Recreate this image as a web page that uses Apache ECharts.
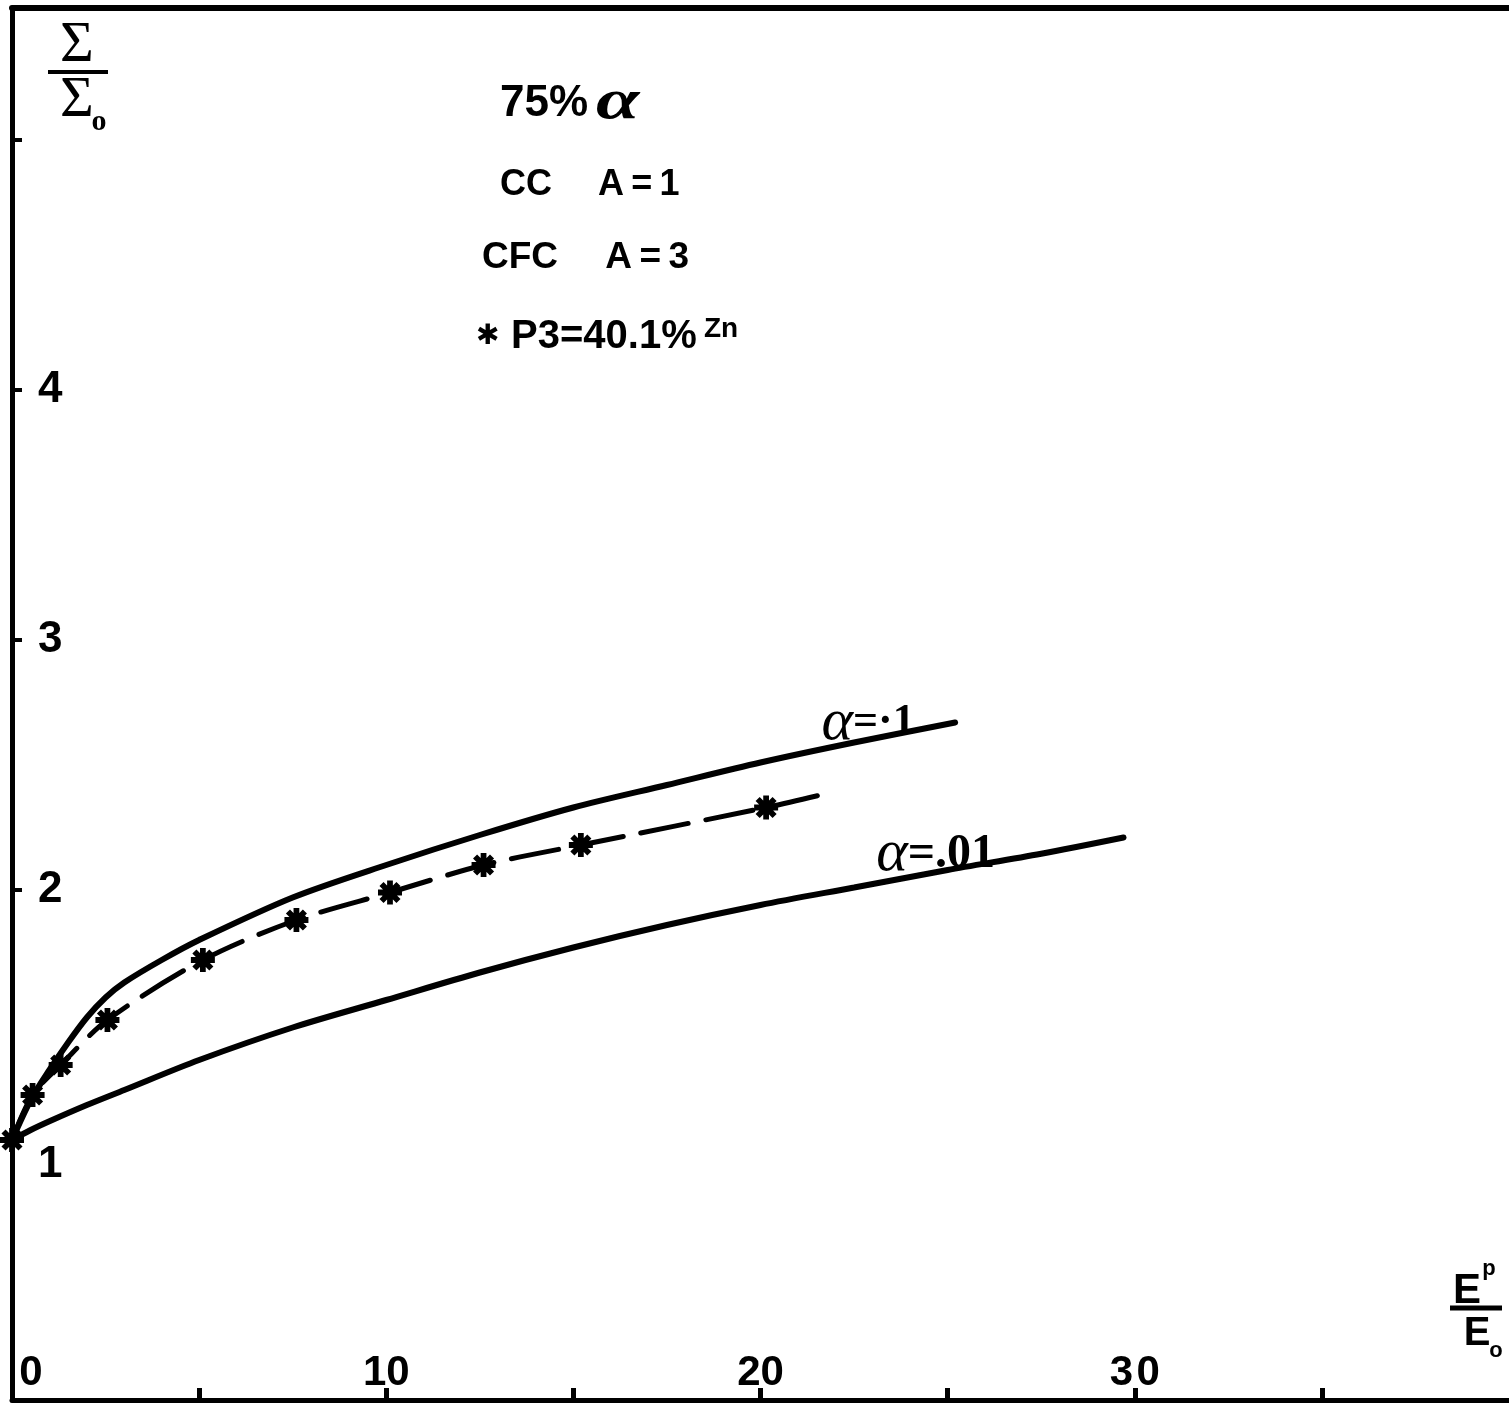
<!DOCTYPE html>
<html>
<head>
<meta charset="utf-8">
<title>Sigma / Sigma0 vs Ep / E0</title>
<script src="https://cdn.jsdelivr.net/npm/echarts@6.0.0/dist/echarts.min.js"></script>
<style>
    html, body { margin: 0; padding: 0; background: #fff; }
    #main { width: 1509px; height: 1410px; }
</style>
</head>
<body>
<div id="main"></div>
<script>
// axis ticks / labels
var x_ticks = [5, 10, 15, 20, 25, 30, 35];
var x_labels = [0, 10, 20, 30];
var y_ticks = [1, 2, 3, 4, 5];
var y_labels = [1, 2, 3, 4];

// alpha = .1 (upper solid curve)
var alpha_1_x = [0, 0.5, 1, 1.5, 2, 2.5, 3, 4, 5, 7.5, 10, 12.5, 15, 17.5, 20, 22.5, 25.2];
var alpha_1_y = [1.0, 1.16, 1.28, 1.39, 1.49, 1.57, 1.63, 1.72, 1.80, 1.97, 2.10, 2.22, 2.33, 2.42, 2.51, 2.59, 2.67];

// alpha = .01 (lower solid curve)
var alpha_01_x = [0, 0.5, 1, 2, 3, 5, 7.5, 10, 12.5, 15, 17.5, 20, 22.5, 25, 27.5, 29.7];
var alpha_01_y = [1.0, 1.04, 1.075, 1.14, 1.20, 1.32, 1.45, 1.56, 1.67, 1.77, 1.86, 1.94, 2.01, 2.08, 2.145, 2.21];

// P3 = 40.1% Zn (measured points, dashed)
var p3_x = [0, 0.55, 1.3, 2.55, 5.1, 7.6, 10.1, 12.6, 15.2, 20.15];
var p3_y = [1.0, 1.18, 1.30, 1.48, 1.72, 1.88, 1.99, 2.10, 2.18, 2.33];
var p3_end_x = 21.6;
var p3_end_y = 2.38;

var STAR = 'path://M-10,-2.4L10,-2.4L10,2.4L-10,2.4Z' +
    'M-2.4,-10L2.4,-10L2.4,10L-2.4,10Z' +
    'M-5.37,-8.77L8.77,5.37L5.37,8.77L-8.77,-5.37Z' +
    'M-8.77,5.37L5.37,-8.77L8.77,-5.37L-5.37,8.77Z';

var SANS = '"Liberation Sans", Arial, sans-serif';
var SERIF = '"Liberation Serif", "Times New Roman", serif';

var CHART = {
    init: function(){
        var _this = this;
        var my_chart = echarts.init(document.getElementById('main'));
        my_chart.setOption(_this.init_option());
    },
    pairs: function(xs, ys){
        var data = [];
        for (var i = 0; i < xs.length; i++) data.push([xs[i], ys[i]]);
        return data;
    },
    curve_series: function(name, xs, ys, label_x, label_text, label_offset, label_rich){
        var _this = this;
        var data = _this.pairs(xs, ys).map(function(p){
            if (p[0] !== label_x) return p;
            return {
                value: p,
                label: {
                    show: true,
                    position: 'top',
                    distance: 0,
                    offset: label_offset,
                    formatter: label_text,
                    rich: label_rich
                }
            };
        });
        return {
            name: name,
            type: 'line',
            smooth: 0.3,
            symbol: 'circle',
            symbolSize: 1,
            itemStyle: { color: '#000' },
            lineStyle: { color: '#000', width: 6, cap: 'round' },
            data: data,
            z: 3
        };
    },
    init_option: function(){
        var _this = this;

        var p3_data = _this.pairs(p3_x, p3_y);
        p3_data.push({ value: [p3_end_x, p3_end_y], symbol: 'none' });

        var series = [
            _this.curve_series('α=·1', alpha_1_x, alpha_1_y, 22.5, '{a|α}{b|=·1}', [14, 11], {
                a: { fontFamily: SERIF, fontStyle: 'italic', fontSize: 60, color: '#000' },
                b: { fontFamily: SERIF, fontWeight: 'bold', fontSize: 44, color: '#000' }
            }),
            _this.curve_series('α=.01', alpha_01_x, alpha_01_y, 25, '{a|α}{b|=.01}', [-12, 15], {
                a: { fontFamily: SERIF, fontStyle: 'italic', fontSize: 60, color: '#000' },
                b: { fontFamily: SERIF, fontWeight: 'bold', fontSize: 48, color: '#000' }
            }),
            {
                name: 'P3 = 40.1% Zn',
                type: 'line',
                smooth: 0.3,
                symbol: STAR,
                symbolSize: 24,
                itemStyle: { color: '#000' },
                lineStyle: { color: '#000', width: 5, type: [48, 18], cap: 'round' },
                data: p3_data,
                z: 4
            }
        ];

        var option = {
            animation: false,
            backgroundColor: '#fff',
            grid: { left: 12, top: 8, width: 1498, height: 1392, containLabel: false },
            xAxis: [
                {
                    type: 'value',
                    position: 'bottom',
                    min: 0,
                    max: 40,
                    axisLine: { show: true, onZero: false, lineStyle: { color: '#000', width: 5 } },
                    axisTick: { show: true, inside: true, length: 12, customValues: x_ticks,
                        lineStyle: { color: '#000', width: 5 } },
                    axisLabel: {
                        inside: true,
                        margin: 6,
                        customValues: x_labels,
                        color: '#000',
                        fontFamily: SANS,
                        fontWeight: 'bold',
                        fontSize: 42,
                        formatter: function(v){
                            if (v === 0) return '{first|0}';
                            if (v === 30) return '3\u200a0';
                            return String(v);
                        },
                        rich: {
                            first: { fontFamily: SANS, fontWeight: 'bold', fontSize: 42, color: '#000',
                                padding: [0, 0, 0, 38] }
                        }
                    },
                    splitLine: { show: false }
                },
                {
                    type: 'value',
                    position: 'top',
                    min: 0,
                    max: 40,
                    axisLine: { show: true, onZero: false, lineStyle: { color: '#000', width: 6 } },
                    axisTick: { show: false },
                    axisLabel: { show: false },
                    splitLine: { show: false }
                }
            ],
            yAxis: {
                type: 'value',
                min: -0.04,
                max: 5.528,
                axisLine: { show: true, onZero: false, lineStyle: { color: '#000', width: 5 } },
                axisTick: { show: true, inside: true, length: 10, customValues: y_ticks,
                    lineStyle: { color: '#000', width: 4 } },
                axisLabel: {
                    inside: true,
                    margin: 26,
                    customValues: y_labels,
                    color: '#000',
                    fontFamily: SANS,
                    fontWeight: 'bold',
                    fontSize: 44,
                    formatter: function(v){
                        if (v === 1) return '{low|1}';
                        return String(v);
                    },
                    rich: {
                        low: { fontFamily: SANS, fontWeight: 'bold', fontSize: 44, color: '#000',
                            padding: [50, 0, 0, 0] }
                    }
                },
                splitLine: { show: false }
            },
            graphic: _this.init_graphic(),
            series: series
        };
        return option;
    },
    text: function(x, y, str, font, align, scale_x){
        return {
            type: 'text',
            x: x,
            y: y,
            z: 10,
            scaleX: scale_x || 1,
            style: {
                text: str,
                font: font,
                fill: '#000',
                textAlign: align || 'left',
                textVerticalAlign: 'middle'
            }
        };
    },
    init_graphic: function(){
        var _this = this;
        var t = function(x, y, str, font, align, scale_x){ return _this.text(x, y, str, font, align, scale_x); };
        return [
            // legend block
            t(500, 104, '75%', 'bold 44px ' + SANS),
            t(596, 104, 'α', 'italic bold 56px ' + SERIF, 'left', 1.4),
            t(500, 185, 'CC\u2003 A\u2009=\u20091', 'bold 36px ' + SANS),
            t(482, 258, 'CFC\u2003 A\u2009=\u20093', 'bold 37px ' + SANS),
            t(476, 337, '\u2731', 'bold 28px "DejaVu Sans"'),
            t(511, 337, 'P3=40.1%', 'bold 40px ' + SANS),
            t(704, 329, 'Zn', 'bold 28px ' + SANS),

            // y axis name  Σ / Σo
            t(77, 46, 'Σ', '58px ' + SERIF, 'center'),
            { type: 'line', z: 10, shape: { x1: 48, y1: 72, x2: 108, y2: 72 },
                style: { stroke: '#000', lineWidth: 4 } },
            t(77, 101, 'Σ', '58px ' + SERIF, 'center'),
            t(99, 122, 'o', 'bold 30px ' + SERIF, 'center'),

            // x axis name  Ep / Eo
            t(1467, 1291, 'E', 'bold 42px ' + SANS, 'center'),
            t(1489, 1269, 'p', 'bold 22px ' + SANS, 'center'),
            { type: 'line', z: 10, shape: { x1: 1450, y1: 1308, x2: 1502, y2: 1308 },
                style: { stroke: '#000', lineWidth: 5 } },
            t(1477, 1334, 'E', 'bold 40px ' + SANS, 'center'),
            t(1496, 1351, 'o', 'bold 22px ' + SANS, 'center')
        ];
    }
};

CHART.init();
</script>
</body>
</html>
